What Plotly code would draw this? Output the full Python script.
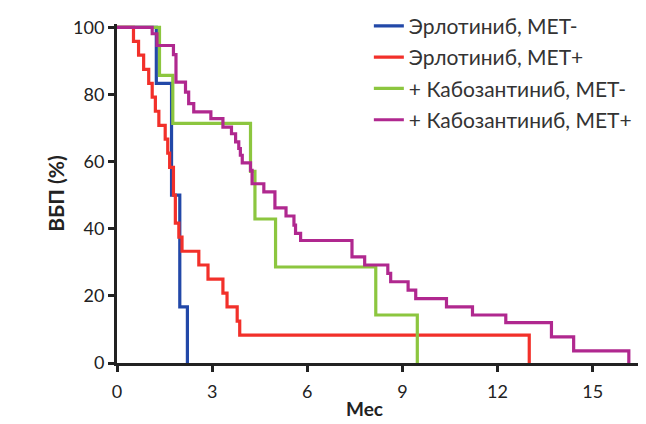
import plotly.graph_objects as go

# Эрлотиниб, MET-
t_erl_neg = [0, 1.24, 1.72, 1.98, 2.22]
s_erl_neg = [100, 83.3, 50, 16.7, 0]

# Эрлотиниб, MET+
t_erl_pos = [0, 0.52, 0.68, 0.84, 1.0, 1.11, 1.21, 1.32, 1.52, 1.60, 1.66, 1.78, 1.84,
             1.95, 2.05, 2.58, 2.87, 3.34, 3.47, 3.79, 3.87, 13.0]
s_erl_pos = [100, 95.8, 91.7, 87.5, 83.3, 79.2, 75, 70.8, 66.7, 62.5, 58.3, 50, 41.7,
             37.5, 33.3, 29.2, 25, 20.8, 16.7, 12.5, 8.3, 0]

# + Кабозантиниб, MET-
t_cab_neg = [0, 1.34, 1.76, 4.21, 4.35, 5.0, 8.16, 9.47]
s_cab_neg = [100, 85.7, 71.4, 57.1, 42.9, 28.6, 14.3, 0]

# + Кабозантиниб, MET+
t_cab_pos = [0, 1.11, 1.26, 1.78, 1.86, 2.16, 2.26, 2.42, 2.96, 3.34, 3.61, 3.74, 3.84,
             3.89, 3.95, 4.21, 4.26, 4.63, 4.98, 5.33, 5.58, 5.63, 5.79, 7.41, 7.81,
             8.54, 8.63, 9.18, 9.42, 10.39, 11.21, 12.26, 13.70, 14.40, 16.14]
s_cab_pos = [100, 98.1, 94.6, 91.9, 83.7, 80.7, 77.3, 74.8, 72.8, 70.3, 68.3, 65.9, 63.9,
             61.9, 59.6, 57.4, 53.4, 51.0, 46.2, 43.8, 41.1, 38.6, 36.5, 31.6, 29.2,
             26.7, 24.2, 21.7, 19.2, 16.7, 14.3, 12.0, 7.8, 3.6, 0]

x_ticks = [0, 3, 6, 9, 12, 15]
y_ticks = [0, 20, 40, 60, 80, 100]

series = [
    ("Эрлотиниб, MET-", t_erl_neg, s_erl_neg, "#2248a8"),
    ("Эрлотиниб, MET+", t_erl_pos, s_erl_pos, "#f2302a"),
    ("+ Кабозантиниб, MET-", t_cab_neg, s_cab_neg, "#8cc63f"),
    ("+ Кабозантиниб, MET+", t_cab_pos, s_cab_pos, "#b0288f"),
]

fig = go.Figure()
for i, (name, t, s, c) in enumerate(series):
    fig.add_trace(go.Scatter(x=t, y=s, mode="lines", name=name, legendgroup=str(i),
                             line=dict(color=c, width=3.2, shape="hv")))

font = "Lato, 'Open Sans', sans-serif"
fig.update_layout(
    width=646, height=424,
    margin=dict(l=109, r=9, t=16, b=69, autoexpand=False),
    plot_bgcolor="white", paper_bgcolor="white",
    font=dict(family=font, size=18, color="#222"),
    showlegend=True,
    legend=dict(x=0.477, y=1.054, xanchor="left", yanchor="top",
                traceorder="grouped", tracegroupgap=1,
                font=dict(size=21, color="#333"), bgcolor="rgba(0,0,0,0)"),
    annotations=[dict(text="<b>Мес</b>", x=7.8, xref="x", y=0, yref="paper",
                      yshift=-59, showarrow=False, font=dict(size=19, color="#222"))],
)
fig.update_xaxes(range=[0, 16.65], tickvals=x_ticks, ticks="outside", ticklen=6,
                 tickwidth=2.5, tickcolor="#222", showline=True, linewidth=3,
                 linecolor="#222", showgrid=False, zeroline=False,
                 tickfont=dict(size=18), ticklabelstandoff=4)
fig.update_yaxes(range=[0, 101], tickvals=y_ticks, ticks="outside", ticklen=6,
                 tickwidth=2.5, tickcolor="#222", showline=True, linewidth=3,
                 linecolor="#222", showgrid=False, zeroline=False,
                 tickfont=dict(size=18),
                 title=dict(text="<b>ВБП (%)</b>", font=dict(size=21), standoff=3))

fig.write_html("out.html")
